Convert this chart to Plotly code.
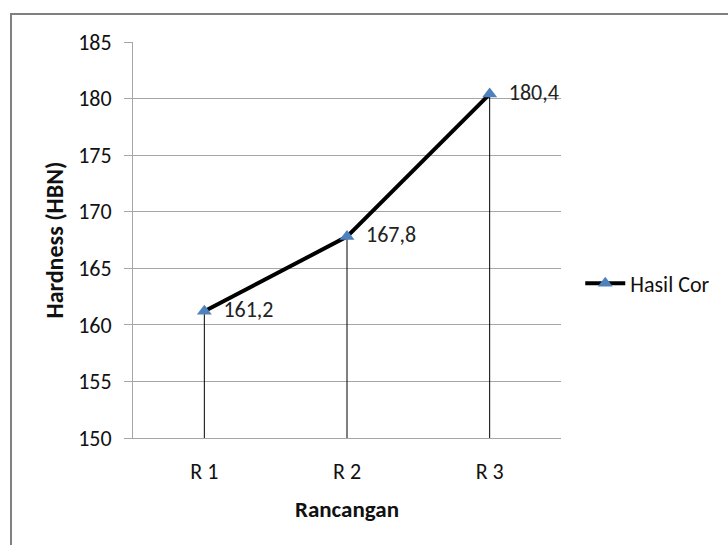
import plotly.graph_objects as go

categories = ["R 1", "R 2", "R 3"]
hardness = [161.2, 167.8, 180.4]
series_name = "Hasil Cor"
y_ticks = [150, 155, 160, 165, 170, 175, 180, 185]

labels = ["  " + f"{v:.1f}".replace(".", ",") for v in hardness]
base = y_ticks[0]

FONT = "Carlito, Calibri, Lato, sans-serif"
GRID = "#a6a6a6"

fig = go.Figure()
fig.add_trace(go.Scatter(
    x=categories,
    y=hardness,
    mode="lines+markers+text",
    name=series_name,
    text=labels,
    textposition="middle right",
    textfont=dict(family=FONT, size=22, color="#222"),
    line=dict(color="black", width=4),
    marker=dict(symbol="triangle-up", size=13, color="#4F81BD"),
    error_y=dict(type="data", symmetric=False,
                 array=[0 for _ in hardness],
                 arrayminus=[v - base for v in hardness],
                 color="black", thickness=1, width=0),
    cliponaxis=False,
))

fig.update_layout(
    width=728, height=545,
    margin=dict(l=133, r=167, t=42, b=107),
    paper_bgcolor="white", plot_bgcolor="white",
    font=dict(family=FONT, size=22, color="#111"),
    showlegend=True,
    legend=dict(x=1.045, xanchor="left", y=0.39, yanchor="middle",
                font=dict(family=FONT, size=22, color="#111"),
                bgcolor="rgba(0,0,0,0)", itemwidth=40),
    xaxis=dict(
        type="category", range=[-0.5, 2.5],
        showline=True, linecolor=GRID, linewidth=1,
        showgrid=False, ticks="", zeroline=False,
        ticklabelstandoff=14,
        tickfont=dict(family=FONT, size=22, color="#111"),
        title=dict(text="Rancangan", standoff=16,
                   font=dict(family=FONT, size=23, color="#111", weight="bold")),
    ),
    yaxis=dict(
        range=[150, 185], tickvals=y_ticks,
        showline=True, linecolor=GRID, linewidth=1,
        showgrid=True, gridcolor=GRID, gridwidth=1,
        ticks="outside", ticklen=8, tickcolor=GRID,
        ticklabelstandoff=8, zeroline=False,
        tickfont=dict(family=FONT, size=22, color="#111"),
        title=dict(text="Hardness (HBN)", standoff=7,
                   font=dict(family=FONT, size=24, color="#111", weight="bold")),
    ),
    shapes=[dict(type="rect", xref="paper", yref="paper",
                 x0=(11 - 133) / 428, x1=(740 - 133) / 428,
                 y0=(438 - 560) / 396, y1=(438 - 14) / 396,
                 line=dict(color="#808080", width=2), fillcolor="rgba(0,0,0,0)",
                 layer="below")],
)

fig.write_html("out.html", config={"displayModeBar": False},
               post_script="document.body.style.margin='0';document.body.style.overflow='hidden';")
